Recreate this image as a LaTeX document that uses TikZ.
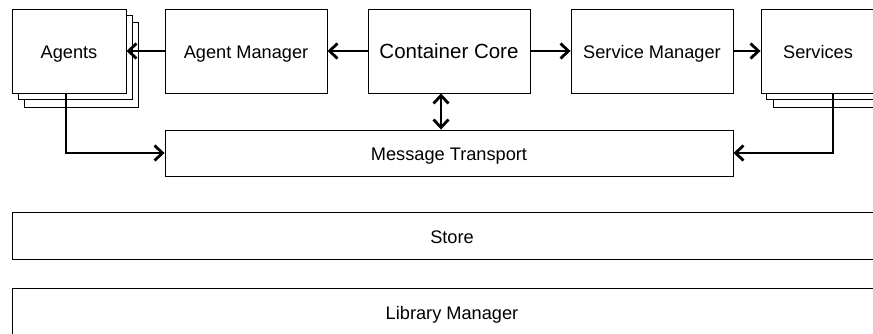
\documentclass[tikz,border=0pt]{standalone}
\usepackage{fontspec}
\setmainfont{Liberation Sans}
\usetikzlibrary{arrows.meta}
\begin{document}
\begin{tikzpicture}[x=1pt,y=1pt,
  box/.style={draw=black, line width=0.9pt, fill=white, inner sep=0pt, text height=15pt, text depth=0pt, font=\fontsize{18.2}{20}\selectfont},
  lbl/.style={inner sep=0pt, text height=15pt, text depth=0pt, font=\fontsize{18.2}{20}\selectfont},
  tip/.style={Straight Barb[length=8pt,width=15pt,line width=2.8pt]},
  conn/.style={line width=2.8pt, -{Straight Barb[length=8pt,width=15pt,line width=2.8pt]}},
  dconn/.style={line width=2.8pt, {Straight Barb[length=8pt,width=15pt,line width=2.8pt]}-{Straight Barb[length=8pt,width=15pt,line width=2.8pt]}}]
\useasboundingbox (0,0) rectangle (873,333);
\begin{scope}
\clip (0,0) rectangle (873,333);
% Agents stack
\node[box, minimum width=114pt, minimum height=85pt] (ag3) at (81,268.5) {};
\node[box, minimum width=114pt, minimum height=84pt] (ag2) at (75,276) {};
\node[box, minimum width=114pt, minimum height=84pt] (ag) at (69,282) {Agents};
% Services stack
\node[box, minimum width=114pt, minimum height=85pt] (sv3) at (830,268.5) {};
\node[box, minimum width=114pt, minimum height=84pt] (sv2) at (823,276) {};
\node[box, minimum width=114pt, minimum height=84pt] (sv) at (818,282) {Services};
% Main row
\node[box, minimum width=162pt, minimum height=84pt] (am) at (246,282) {Agent Manager};
\node[box, minimum width=162pt, minimum height=84pt, text height=14pt, font=\fontsize{20.5}{24}\selectfont] (cc) at (449,282) {Container Core};
\node[box, minimum width=162pt, minimum height=84pt] (sm) at (652,282) {Service Manager};
% Message transport
\node[box, minimum width=568pt, minimum height=46pt] (mt) at (449,180) {Message Transport};
% Store and Library Manager
\node[box, minimum width=873pt, minimum height=47pt] (st) at (448.5,97.5) {};
\node[lbl] (stl) at (452,97.5) {Store};
\node[box, minimum width=873pt, minimum height=50pt] (lm) at (448.5,20) {};
\node[lbl] (lml) at (452,21) {Library Manager};
% Connectors
\draw[conn] (am.west) -- (ag.east);
\draw[conn] (cc.west) -- (am.east);
\draw[conn] (cc.east) -- (sm.west);
\draw[conn] (sm.east) -- (sv.west);
\coordinate (ccb) at ([xshift=-8pt]cc.south);
\draw[dconn] (ccb) -- (ccb |- mt.north);
\coordinate (agb) at ([xshift=-3pt]ag.south);
\draw[conn] (agb) -- (agb |- mt.west) -- (mt.west);
\coordinate (svb) at ([xshift=15pt]sv.south);
\draw[conn] (svb) -- (svb |- mt.east) -- (mt.east);
\end{scope}
\end{tikzpicture}
\end{document}
